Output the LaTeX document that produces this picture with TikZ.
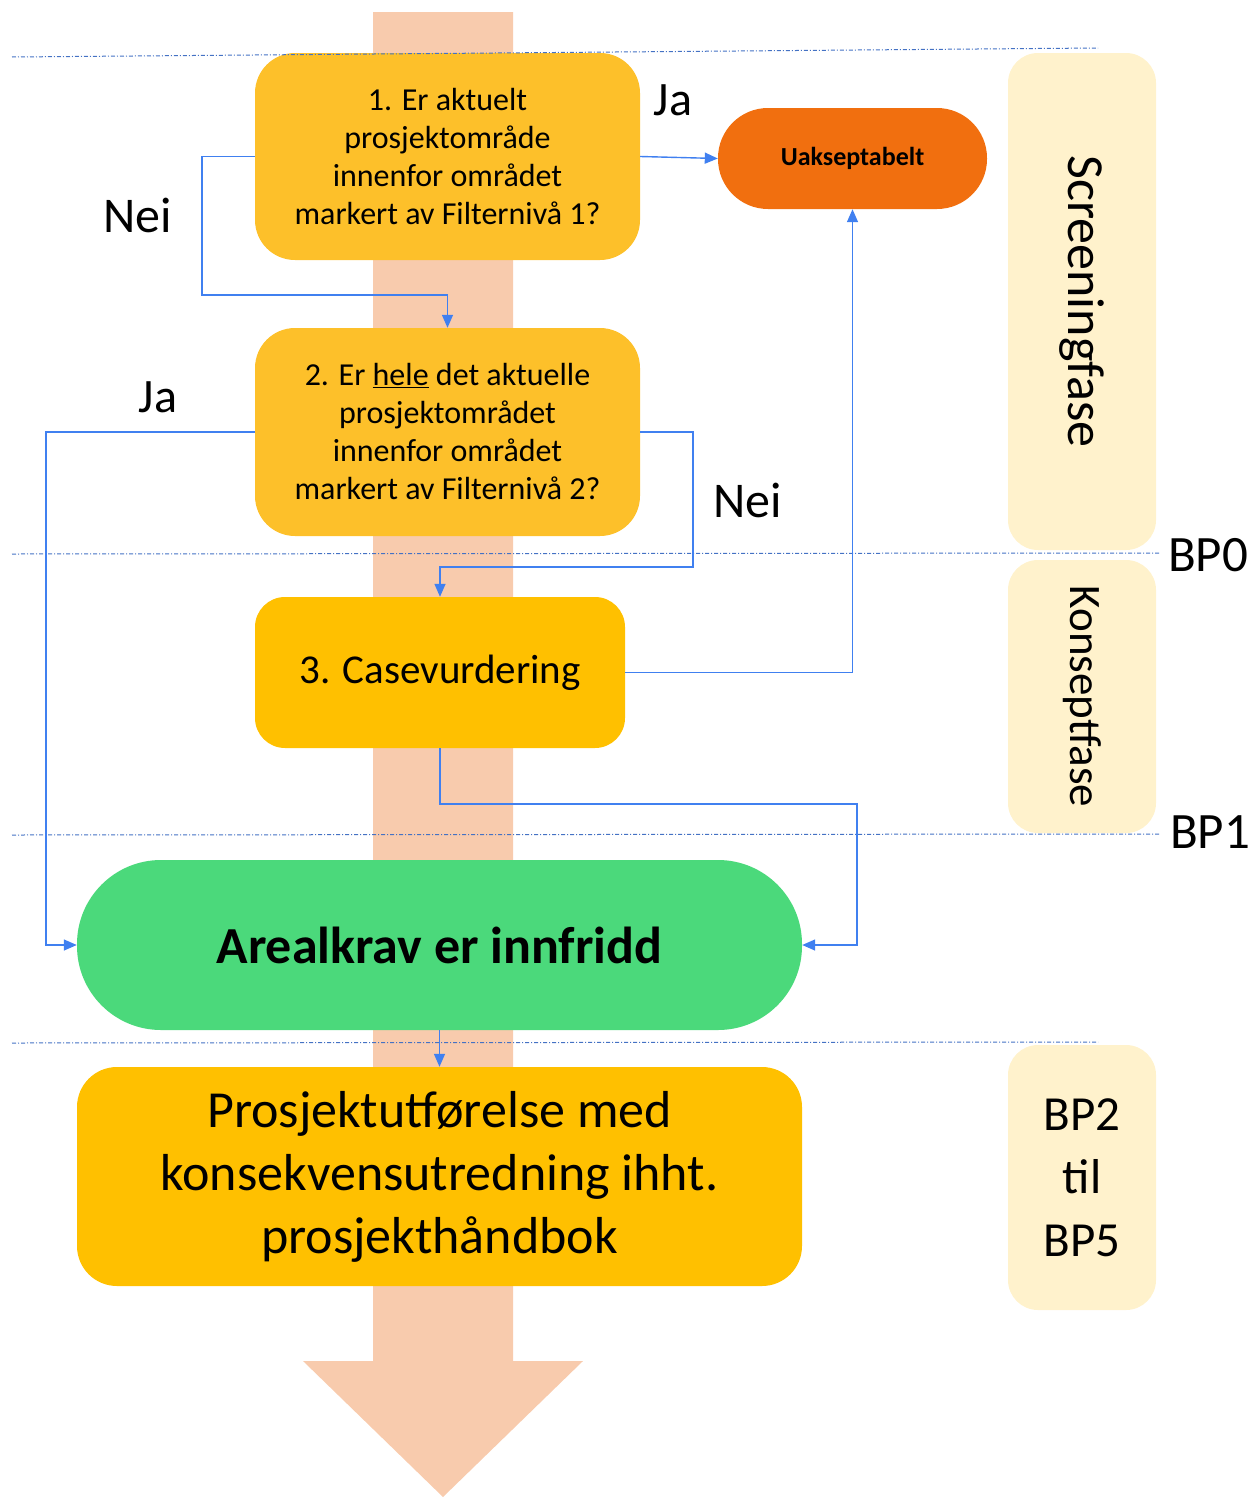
\documentclass[tikz,border=0pt]{standalone}
\usepackage{fontspec}
\setmainfont{Carlito}
\usetikzlibrary{arrows.meta}
\definecolor{shaftc}{RGB}{248,203,173}
\definecolor{qbox}{RGB}{253,192,42}
\definecolor{gbox}{RGB}{255,192,0}
\definecolor{ored}{RGB}{241,111,15}
\definecolor{grn}{RGB}{75,217,123}
\definecolor{phasec}{RGB}{255,242,204}
\definecolor{dashc}{RGB}{68,114,196}
\definecolor{connc}{RGB}{64,128,240}
\tikzset{
  qstyle/.style={draw=none, fill=qbox, rounded corners=40pt, align=center, inner sep=0pt,
    font=\fontsize{32}{38}\selectfont},
  phase/.style={draw=none, fill=phasec, rounded corners=30pt, align=center, inner sep=0pt},
  conn/.style={draw=connc, line width=1.4pt, -{Triangle[length=13pt,width=11pt]}},
  phaseline/.style={draw=dashc, line width=1pt, dash pattern=on 4pt off 2pt on 1pt off 2pt},
  lbl/.style={font=\fontsize{48}{58}\selectfont, inner sep=0pt},
}
\begin{document}
\begin{tikzpicture}[x=1pt,y=-1pt]
\useasboundingbox (0,0) rectangle (1253,1499);
% big arrow
\fill[shaftc] (373,12) -- (513,12) -- (513,1361) -- (583,1361) -- (443,1497) -- (303,1361) -- (373,1361) -- cycle;
% phase boxes
\node[phase, rotate=-90, minimum width=497pt, minimum height=148pt, font=\fontsize{52}{60}\selectfont] (scr) at (1082,301.5) {Screeningfase};
\node[phase, rotate=-90, minimum width=273pt, minimum height=148pt, font=\fontsize{45}{54}\selectfont] (kon) at (1082,696.5) {Konseptfase};
\node[phase, minimum width=148pt, minimum height=265pt, font=\fontsize{49}{63}\selectfont] (bp25) at (1082,1177.5) {BP2\\til\\BP5};
% main nodes
\node[qstyle, minimum width=385pt, minimum height=207pt] (b1) at (447.5,156.5)
  {1. Er aktuelt\\prosjektområde\\innenfor området\\markert av Filternivå 1?};
\node[qstyle, minimum width=385pt, minimum height=208pt] (b2) at (447.5,432)
  {2. Er \underline{hele} det aktuelle\\prosjektområdet\\innenfor området\\markert av Filternivå 2?};
\node[qstyle, fill=gbox, rounded corners=30pt, minimum width=370pt, minimum height=151pt,
  font=\fontsize{41}{48}\selectfont] (b3) at (440,672.5) {3. Casevurdering};
\node[draw=none, fill=ored, rounded corners=50pt, minimum width=269pt, minimum height=101pt,
  inner sep=0pt, font=\fontsize{26}{30}\selectfont\bfseries] (ua) at (852.5,158.5) {Uakseptabelt};
\node[draw=none, fill=grn, rounded corners=84pt, minimum width=725pt, minimum height=170pt,
  inner sep=0pt, font=\fontsize{52}{60}\selectfont\bfseries] (ar) at (439.5,945) {Arealkrav er innfridd};
\node[qstyle, fill=gbox, minimum width=725pt, minimum height=219pt,
  font=\fontsize{52}{63}\selectfont] (pr) at (439.5,1176.5)
  {Prosjektutførelse med\\konsekvensutredning ihht.\\prosjekthåndbok};
% phase lines
\draw[phaseline] (12,57) -- (1098,48);
\draw[phaseline] (12,554) -- (1160,553);
\draw[phaseline] (12,835) -- (1160,834);
\draw[phaseline] (12,1043) -- (1098,1042);
% labels
\node[lbl] (ja1) at (673,100) {Ja};
\node[lbl, font=\fontsize{50}{60}\selectfont] (nei1) at (138,215) {Nei};
\node[lbl] (ja2) at (158,397) {Ja};
\node[lbl, font=\fontsize{50}{60}\selectfont] (nei2) at (748,500) {Nei};
\node[lbl, font=\fontsize{51}{60}\selectfont] (bp0) at (1208,555) {BP0};
\node[lbl, font=\fontsize{51}{60}\selectfont] (bp1) at (1210,832) {BP1};
% connectors
\draw[conn] (b1.east) -- (ua.west);
\draw[conn] (b1.west) -- (202,156.5) -- (202,295) -- (447.5,295) -- (b2.north);
\draw[conn] (b2.west) -- (46,432) -- (46,945) -- (ar.west);
\draw[conn] (b2.east) -- (693,432) -- (693,567) -- (440,567) -- (b3.north);
\draw[conn] (b3.east) -- (852.5,672.5) -- (ua.south);
\draw[conn] (b3.south) -- (440,804) -- (857,804) -- (857,945) -- (ar.east);
\draw[conn] (ar.south) -- (pr.north);
\end{tikzpicture}
\end{document}
